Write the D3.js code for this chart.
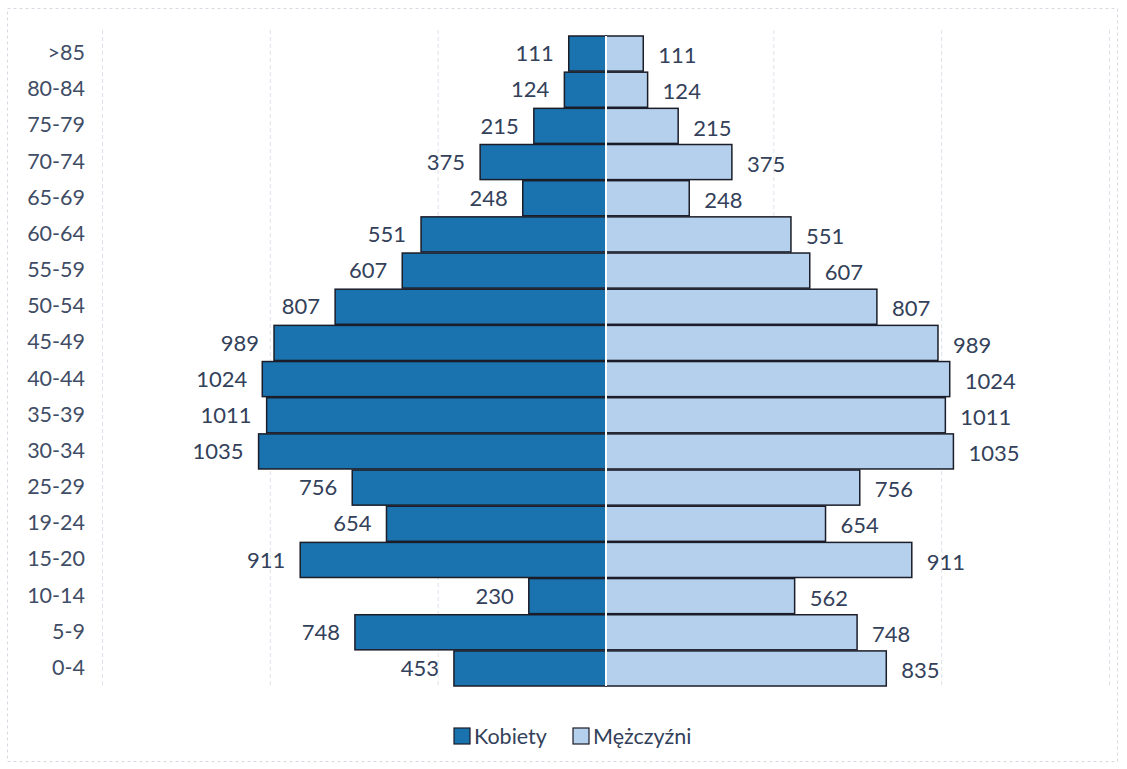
<!DOCTYPE html>
<html>
<head>
<meta charset="utf-8">
<script src="https://cdn.jsdelivr.net/npm/d3@7"></script>
<style>
  html, body { margin: 0; padding: 0; background: #ffffff; }
  svg { display: block; }
  text { font-family: Lato, "Open Sans", sans-serif; }
</style>
</head>
<body>
<svg id="chart" width="1127" height="769"></svg>
<script>
const categories = [">85","80-84","75-79","70-74","65-69","60-64","55-59","50-54","45-49","40-44","35-39","30-34","25-29","19-24","15-20","10-14","5-9","0-4"];
const kobiety    = [111,124,215,375,248,551,607,807,989,1024,1011,1035,756,654,911,230,748,453];
const mezczyzni  = [111,124,215,375,248,551,607,807,989,1024,1011,1035,756,654,911,562,748,835];
const gridTicks  = [-1500,-1000,-500,0,500,1000,1500];
const seriesNames = ["Kobiety","Mężczyźni"];

const colDark = "#1a72ae", colLight = "#b4d0ec", stroke = "#1b1d28";
const textCol = "#33415a";

const svg = d3.select("#chart");

// outer faint dashed frame
svg.append("rect").attr("x",7.5).attr("y",8.5).attr("width",1110).attr("height",753)
  .attr("fill","none").attr("stroke","#d6dbe3").attr("stroke-width",1).attr("stroke-dasharray","3,3");

const x = d3.scaleLinear().domain([-1500,1500]).range([102.5,1109.5]);
const y = d3.scaleBand().domain(categories).range([36,686]).paddingInner(0.03).paddingOuter(0.0);

// gridlines
svg.append("g").selectAll("line").data(gridTicks.filter(d=>d!==0)).join("line")
  .attr("x1",d=>x(d)).attr("x2",d=>x(d)).attr("y1",30).attr("y2",688)
  .attr("stroke","#dde2ea").attr("stroke-width",1).attr("stroke-dasharray","4,3");

// category axis
const yAxis = d3.axisLeft(y).tickSize(0).tickPadding(0);
const gy = svg.append("g").attr("transform","translate(85,0)").call(yAxis);
gy.select(".domain").remove();
gy.selectAll("text").attr("font-size",21.5).attr("fill","#3f4d66").attr("dy","0.3em")
  .style("font-family","Lato, sans-serif");

// bars: women (left)
svg.append("g").selectAll("rect").data(categories).join("rect")
  .attr("x",(d,i)=>x(-kobiety[i])).attr("y",d=>y(d))
  .attr("width",(d,i)=>x(0)-x(-kobiety[i])).attr("height",y.bandwidth())
  .attr("fill",colDark).attr("stroke",stroke).attr("stroke-width",1.5);

// bars: men (right)
svg.append("g").selectAll("rect").data(categories).join("rect")
  .attr("x",x(0)).attr("y",d=>y(d))
  .attr("width",(d,i)=>x(mezczyzni[i])-x(0)).attr("height",y.bandwidth())
  .attr("fill",colLight).attr("stroke",stroke).attr("stroke-width",1.5);

// centre divider
svg.append("line").attr("x1",x(0)).attr("x2",x(0)).attr("y1",y(categories[0])).attr("y2",y(categories[categories.length-1])+y.bandwidth())
  .attr("stroke","#ffffff").attr("stroke-width",2);

// value labels
svg.append("g").selectAll("text").data(categories).join("text")
  .attr("x",(d,i)=>x(-kobiety[i])-15).attr("y",d=>y(d)+y.bandwidth()/2)
  .attr("text-anchor","end").attr("dy","0.35em").attr("font-size",22).attr("fill",textCol)
  .text((d,i)=>kobiety[i]);
svg.append("g").selectAll("text").data(categories).join("text")
  .attr("x",(d,i)=>x(mezczyzni[i])+15).attr("y",d=>y(d)+y.bandwidth()/2+2)
  .attr("text-anchor","start").attr("dy","0.35em").attr("font-size",22).attr("fill",textCol)
  .text((d,i)=>mezczyzni[i]);

// legend
const legend = svg.append("g");
const lx = [454, 573];
seriesNames.forEach((n,i)=>{
  legend.append("rect").attr("x",lx[i]).attr("y",728).attr("width",16).attr("height",16)
    .attr("fill",i===0?colDark:colLight).attr("stroke",stroke).attr("stroke-width",1.2);
  legend.append("text").attr("x",lx[i]+20).attr("y",736).attr("dy","0.35em")
    .attr("font-size",21.5).attr("fill",textCol).text(n);
});
</script>
</body>
</html>
